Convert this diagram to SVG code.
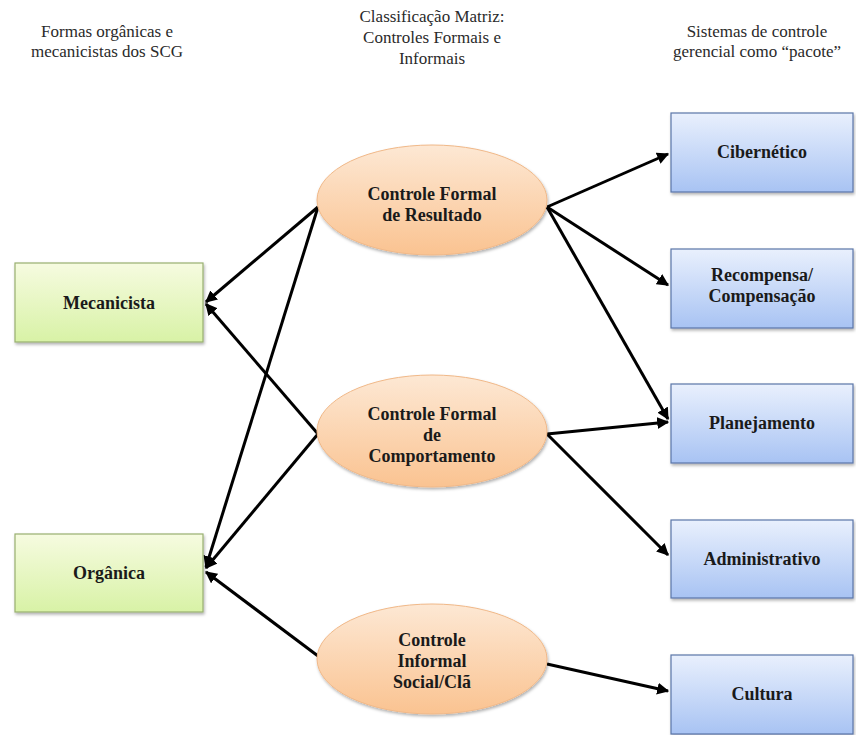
<svg xmlns="http://www.w3.org/2000/svg" width="856" height="735" viewBox="0 0 856 735">
<defs>
<linearGradient id="gGreen" x1="0" y1="0" x2="0" y2="1">
<stop offset="0" stop-color="#f6fbe0"/>
<stop offset="1" stop-color="#d8f2a6"/>
</linearGradient>
<linearGradient id="gBlue" x1="0" y1="0" x2="0" y2="1">
<stop offset="0" stop-color="#e9f0fd"/>
<stop offset="1" stop-color="#a8c3f3"/>
</linearGradient>
<linearGradient id="gOrange" x1="0" y1="0" x2="0" y2="1">
<stop offset="0" stop-color="#fde8d4"/>
<stop offset="1" stop-color="#fac391"/>
</linearGradient>
<filter id="sh" x="-10%" y="-10%" width="125%" height="130%">
<feDropShadow dx="1" dy="2" stdDeviation="1.5" flood-color="#000" flood-opacity="0.3"/>
</filter>
<marker id="arr" viewBox="0 0 10 10" refX="9" refY="5" markerWidth="4" markerHeight="4" orient="auto" markerUnits="strokeWidth">
<path d="M0,0 L10,5 L0,10 z" fill="#000"/>
</marker>
</defs>
<style>
text{font-family:'Liberation Serif','DejaVu Serif','Times New Roman',serif;text-anchor:middle}
.hdr{font-size:17px;fill:#2a2a2a}
.lbl{font-size:18px;font-weight:bold;fill:#1a1a1a}
.green{fill:url(#gGreen);stroke:#98b070;stroke-width:1.2;filter:url(#sh)}
.blue{fill:url(#gBlue);stroke:#5a76a8;stroke-width:1.2;filter:url(#sh)}
.oval{fill:url(#gOrange);stroke:#f0b888;stroke-width:1;filter:url(#sh)}
.con{stroke:#000;stroke-width:3;fill:none;marker-end:url(#arr)}
</style>
<rect width="856" height="735" fill="#fff"/>
<g id="headers">
<text class="hdr" x="107" y="37">Formas orgânicas e</text>
<text class="hdr" x="107" y="57">mecanicistas dos SCG</text>
<text class="hdr" x="432" y="22">Classificação Matriz:</text>
<text class="hdr" x="432" y="43">Controles Formais e</text>
<text class="hdr" x="432" y="64">Informais</text>
<text class="hdr" x="757" y="37">Sistemas de controle</text>
<text class="hdr" x="757" y="57">gerencial como “pacote”</text>
</g>
<g id="connectors">
<line class="con" x1="318" y1="207" x2="206" y2="302"/>
<line class="con" x1="318" y1="207" x2="206" y2="567"/>
<line class="con" x1="318" y1="434" x2="206" y2="304"/>
<line class="con" x1="318" y1="434" x2="206" y2="568"/>
<line class="con" x1="318" y1="656" x2="206" y2="572"/>
<line class="con" x1="547" y1="207" x2="668" y2="154"/>
<line class="con" x1="547" y1="207" x2="668" y2="285"/>
<line class="con" x1="547" y1="207" x2="668" y2="419"/>
<line class="con" x1="547" y1="434" x2="668" y2="422"/>
<line class="con" x1="547" y1="434" x2="668" y2="555"/>
<line class="con" x1="547" y1="664" x2="668" y2="691"/>
</g>
<g id="mecanicista">
<rect class="green" x="15" y="263" width="188" height="79"/>
<text class="lbl" x="109" y="309">Mecanicista</text>
</g>
<g id="organica">
<rect class="green" x="15" y="534" width="188" height="78"/>
<text class="lbl" x="109" y="579">Orgânica</text>
</g>
<g id="resultado">
<ellipse class="oval" cx="432" cy="200" rx="115" ry="55"/>
<text class="lbl" x="432" y="200">Controle Formal</text>
<text class="lbl" x="432" y="221">de Resultado</text>
</g>
<g id="comportamento">
<ellipse class="oval" cx="432" cy="431" rx="115" ry="56"/>
<text class="lbl" x="432" y="420">Controle Formal</text>
<text class="lbl" x="432" y="441">de</text>
<text class="lbl" x="432" y="462">Comportamento</text>
</g>
<g id="social">
<ellipse class="oval" cx="432" cy="659" rx="115" ry="55"/>
<text class="lbl" x="432" y="646">Controle</text>
<text class="lbl" x="432" y="667">Informal</text>
<text class="lbl" x="432" y="688">Social/Clã</text>
</g>
<g id="cibernetico">
<rect class="blue" x="671" y="113" width="182" height="79"/>
<text class="lbl" x="762" y="158">Cibernético</text>
</g>
<g id="recompensa">
<rect class="blue" x="671" y="249" width="182" height="79"/>
<text class="lbl" x="762" y="281">Recompensa/</text>
<text class="lbl" x="762" y="302">Compensação</text>
</g>
<g id="planejamento">
<rect class="blue" x="671" y="384" width="182" height="79"/>
<text class="lbl" x="762" y="429">Planejamento</text>
</g>
<g id="administrativo">
<rect class="blue" x="671" y="520" width="182" height="78"/>
<text class="lbl" x="762" y="565">Administrativo</text>
</g>
<g id="cultura">
<rect class="blue" x="671" y="655" width="182" height="79"/>
<text class="lbl" x="762" y="700">Cultura</text>
</g>
</svg>
